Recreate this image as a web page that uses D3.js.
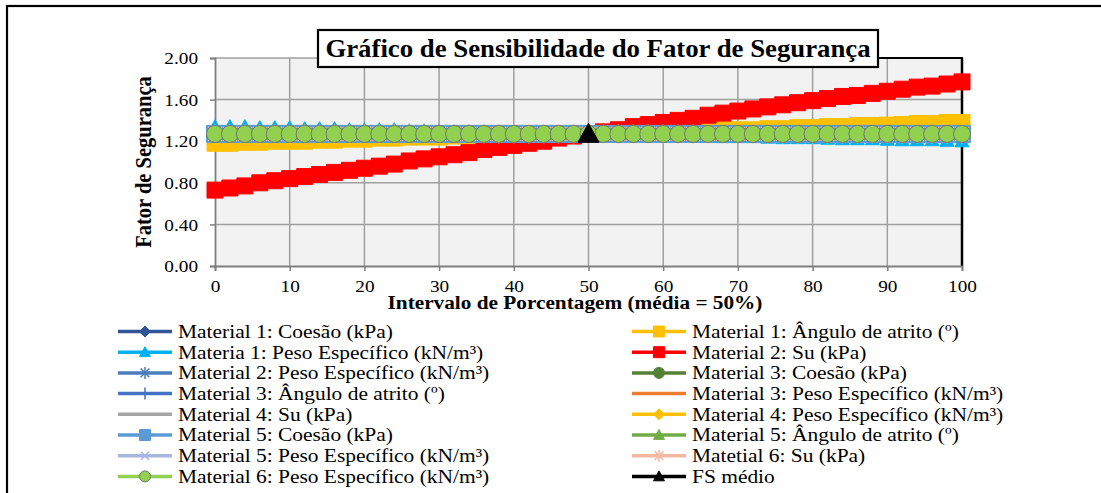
<!DOCTYPE html>
<html><head><meta charset="utf-8">
<script src="https://cdn.jsdelivr.net/npm/d3@7"></script>
<style>
body{margin:0;background:#fff}
svg{display:block}
text{font-family:"Liberation Serif","Times New Roman",serif;fill:#000}
</style>
</head><body>
<svg id="chart" width="1101" height="493"></svg>
<script>
// ---------------- DATA ----------------
const xValues = [0,2,4,6,8,10,12,14,16,18,20,22,24,26,28,30,32,34,36,38,40,42,44,46,48,50,
                 52,54,56,58,60,62,64,66,68,70,72,74,76,78,80,82,84,86,88,90,92,94,96,98,100];
const xTicks = [0,10,20,30,40,50,60,70,80,90,100];
const yTicks = [0.00,0.40,0.80,1.20,1.60,2.00];

const flatFS = [1.27,1.27,1.27,1.27,1.27,1.27,1.27,1.27,1.27,1.27,
                1.27,1.27,1.27,1.27,1.27,1.27,1.27,1.27,1.27,1.27,
                1.27,1.27,1.27,1.27,1.27,1.27,1.27,1.27,1.27,1.27,
                1.27,1.27,1.27,1.27,1.27,1.27,1.27,1.27,1.27,1.27,
                1.27,1.27,1.27,1.27,1.27,1.27,1.27,1.27,1.27,1.27,
                1.27];
const m1Coesao = flatFS;
const m1Angulo = [1.18,1.18,1.19,1.19,1.20,1.20,1.20,1.21,1.21,1.22,
                  1.22,1.23,1.23,1.24,1.24,1.24,1.25,1.25,1.25,1.26,
                  1.26,1.26,1.26,1.27,1.27,1.27,1.27,1.28,1.28,1.29,
                  1.29,1.29,1.30,1.30,1.31,1.31,1.31,1.32,1.32,1.33,
                  1.33,1.34,1.34,1.35,1.35,1.355,1.36,1.37,1.37,1.38,
                  1.38];
const m1Peso = [1.34,1.34,1.34,1.33,1.33,1.33,1.32,1.32,1.32,1.31,
                1.31,1.31,1.31,1.30,1.30,1.30,1.29,1.29,1.29,1.28,
                1.28,1.28,1.28,1.27,1.27,1.27,1.27,1.26,1.26,1.26,
                1.26,1.25,1.25,1.25,1.24,1.24,1.24,1.235,1.23,1.23,
                1.23,1.225,1.22,1.22,1.22,1.215,1.21,1.21,1.21,1.205,
                1.20];
const m2Su = [0.73,0.75,0.77,0.80,0.82,0.84,0.86,0.88,0.90,0.92,
              0.94,0.96,0.98,1.01,1.03,1.05,1.07,1.09,1.12,1.14,
              1.16,1.18,1.20,1.23,1.25,1.27,1.29,1.31,1.34,1.36,
              1.38,1.40,1.42,1.45,1.47,1.49,1.51,1.53,1.55,1.57,
              1.59,1.61,1.63,1.64,1.66,1.68,1.70,1.72,1.73,1.75,
              1.77];
const m2Peso = flatFS;
const m3Coesao = flatFS;
const m3Angulo = flatFS;
const m3Peso = flatFS;
const m4Su = flatFS;
const m4Peso = flatFS;
const m5Coesao = flatFS;
const m5Angulo = flatFS;
const m5Peso = flatFS;
const m6Su = flatFS;
const m6Peso = flatFS;
const fsMedioX = [50];
const fsMedioY = [1.27];

const seriesNames = [
  "Material 1: Coesão (kPa)",
  "Material 1: Ângulo de atrito (º)",
  "Materia 1: Peso Específico (kN/m³)",
  "Material 2: Su (kPa)",
  "Material 2: Peso Específico (kN/m³)",
  "Material 3: Coesão (kPa)",
  "Material 3: Ângulo de atrito (º)",
  "Material 3: Peso Específico (kN/m³)",
  "Material 4: Su (kPa)",
  "Material 4: Peso Específico (kN/m³)",
  "Material 5: Coesão (kPa)",
  "Material 5: Ângulo de atrito (º)",
  "Material 5: Peso Específico (kN/m³)",
  "Matetial 6: Su (kPa)",
  "Material 6: Peso Específico (kN/m³)",
  "FS médio"
];
const seriesValues = [m1Coesao,m1Angulo,m1Peso,m2Su,m2Peso,m3Coesao,m3Angulo,m3Peso,
                      m4Su,m4Peso,m5Coesao,m5Angulo,m5Peso,m6Su,m6Peso,fsMedioY];
const seriesX = [xValues,xValues,xValues,xValues,xValues,xValues,xValues,xValues,
                 xValues,xValues,xValues,xValues,xValues,xValues,xValues,fsMedioX];

const titleText = "Gráfico de Sensibilidade do Fator de Segurança";
const yTitleText = "Fator de Segurança";
const xTitleText = "Intervalo de Porcentagem (média = 50%)";

// ---------------- STYLE ----------------
const styles = [
  {color:"#2f5597", marker:"diamond",  size:14, fill:"#2f5597", stroke:"#2f5597"},
  {color:"#ffc000", marker:"square",   size:16, fill:"#ffc000", stroke:"#ffc000"},
  {color:"#00b0f0", marker:"triangle", size:14, fill:"#00b0f0", stroke:"#00b0f0"},
  {color:"#ff0000", marker:"square",   size:16, fill:"#ff0000", stroke:"#ff0000"},
  {color:"#4a7ebb", marker:"asterisk", size:16, fill:"none",    stroke:"#4a7ebb"},
  {color:"#548235", marker:"circle",   size:14, fill:"#548235", stroke:"#548235"},
  {color:"#4472c4", marker:"plus",     size:18, fill:"none",    stroke:"#4472c4"},
  {color:"#ed7d31", marker:"none",     size:0},
  {color:"#a5a5a5", marker:"none",     size:0},
  {color:"#ffc000", marker:"diamond",  size:14, fill:"#ffc000", stroke:"#ffc000"},
  {color:"#5b9bd5", marker:"square",   size:17, fill:"#5b9bd5", stroke:"#5b9bd5"},
  {color:"#70ad47", marker:"triangle", size:14, fill:"#70ad47", stroke:"#70ad47"},
  {color:"#a9b6dd", marker:"x",        size:14, fill:"none",    stroke:"#a9b6dd"},
  {color:"#f4b8a0", marker:"asterisk", size:19, fill:"none",    stroke:"#f4b8a0"},
  {color:"#92d050", marker:"circle",   size:17, fill:"#92d050", stroke:"#6f7b6a"},
  {color:"#000000", marker:"triangle", size:21, fill:"#000000", stroke:"#000000"}
];

// ---------------- DRAW ----------------
const svg = d3.select("#chart");
const plot = {left:215, right:962, top:58, bottom:266};

const x = d3.scaleLinear().domain([0,100]).range([plot.left, plot.right]);
const y = d3.scaleLinear().domain([0,2]).range([plot.bottom, plot.top]);

// outer frame
svg.append("rect").attr("x",7).attr("y",6).attr("width",1200).attr("height",600)
  .attr("fill","none").attr("stroke","#000").attr("stroke-width",2.2);

// plot background
svg.append("rect").attr("x",plot.left).attr("y",plot.top)
  .attr("width",plot.right-plot.left).attr("height",plot.bottom-plot.top)
  .attr("fill","#f2f2f2");

// gridlines
svg.append("g").selectAll("line").data(xTicks.slice(1,-1)).join("line")
  .attr("x1",d=>x(d)).attr("x2",d=>x(d)).attr("y1",plot.top).attr("y2",plot.bottom)
  .attr("stroke","#a0a0a0").attr("stroke-width",1.5);
svg.append("g").selectAll("line").data(yTicks.slice(1)).join("line")
  .attr("x1",plot.left).attr("x2",plot.right).attr("y1",d=>y(d)).attr("y2",d=>y(d))
  .attr("stroke","#a0a0a0").attr("stroke-width",1.5);

// right / top-right border (black)
svg.append("line").attr("x1",plot.right).attr("x2",plot.right)
  .attr("y1",plot.top).attr("y2",plot.bottom).attr("stroke","#000").attr("stroke-width",2.5);
svg.append("line").attr("x1",850).attr("x2",plot.right+1)
  .attr("y1",plot.top).attr("y2",plot.top).attr("stroke","#000").attr("stroke-width",2);

// axes
const sxTick = 1.1;
const yAxis = d3.axisLeft(y).tickValues(yTicks).tickFormat(d3.format(".2f")).tickSize(5).tickPadding(12);
const gy = svg.append("g").attr("transform",`translate(${plot.left},0)`).call(yAxis);
gy.select(".domain").attr("stroke","#7f7f7f").attr("stroke-width",1.8);
gy.selectAll(".tick line").attr("stroke","#7f7f7f").attr("stroke-width",1.5);
gy.selectAll(".tick text").attr("font-size",17.5).attr("fill","#000")
  .attr("transform",function(){ const xx=+d3.select(this).attr("x"); return `translate(${xx*(1-sxTick)},0) scale(${sxTick},1)`; });

const xAxis = d3.axisBottom(x).tickValues(xTicks).tickFormat(d3.format("d")).tickSize(5).tickPadding(9);
const gx = svg.append("g").attr("transform",`translate(0,${plot.bottom})`).call(xAxis);
gx.select(".domain").attr("stroke","#7f7f7f").attr("stroke-width",1.8);
gx.selectAll(".tick line").attr("stroke","#7f7f7f").attr("stroke-width",1.5);
gx.selectAll(".tick text").attr("font-size",17.5).attr("fill","#000")
  .attr("transform",`scale(${sxTick},1)`);

// marker path helper
function markerPath(type, s){
  const h = s/2;
  switch(type){
    case "diamond": return `M0,${-h}L${h},0L0,${h}L${-h},0Z`;
    case "square": return `M${-h},${-h}H${h}V${h}H${-h}Z`;
    case "triangle": return `M0,${-h}L${h},${h*0.8}L${-h},${h*0.8}Z`;
    case "circle": return d3.symbol(d3.symbolCircle, Math.PI*h*h)();
    case "asterisk": {const k=h*0.72; return `M0,${-h}V${h}M${-k},${-k}L${k},${k}M${-k},${k}L${k},${-k}`;}
    case "x": {const k=h*0.72; return `M${-k},${-k}L${k},${k}M${-k},${k}L${k},${-k}`;}
    case "plus": return `M0,${-h}V${h}M${-h*0.5},0H${h*0.5}`;
    default: return "";
  }
}

const line = d3.line();
const seriesLayer = svg.append("g");
seriesValues.forEach((vals,i)=>{
  const st = styles[i];
  const pts = vals.map((v,j)=>[x(seriesX[i][j]), y(v)]);
  const g = seriesLayer.append("g");
  if (pts.length>1){
    g.append("path").attr("d",line(pts)).attr("fill","none")
      .attr("stroke",st.color).attr("stroke-width",3);
  }
  if (st.marker!=="none"){
    g.selectAll("path.m").data(pts).join("path").attr("class","m")
      .attr("transform",d=>`translate(${d[0]},${d[1]})`)
      .attr("d",markerPath(st.marker, st.size))
      .attr("fill",st.fill).attr("stroke",st.stroke)
      .attr("stroke-width", (st.fill==="none") ? 1.5 : 1);
  }
});

// title box
const titleG = svg.append("g");
titleG.append("rect").attr("x",318).attr("y",30).attr("width",560).attr("height",37)
  .attr("fill","#fff").attr("stroke","#000").attr("stroke-width",2.2);
titleG.append("text").attr("transform","translate(598,57) scale(1.03,1)").attr("text-anchor","middle")
  .attr("font-size",26).attr("font-weight","bold").text(titleText);

// axis titles
svg.append("text").attr("transform","translate(151,162) rotate(-90) scale(1,1.1)")
  .attr("text-anchor","middle").attr("font-size",20.5).attr("font-weight","bold").text(yTitleText);
svg.append("text").attr("transform","translate(575,309) scale(1.12,1)").attr("text-anchor","middle")
  .attr("font-size",19).attr("font-weight","bold").text(xTitleText);

// legend
const legend = svg.append("g");
seriesNames.forEach((name,si)=>{
  const col = si%2, row = Math.floor(si/2);
  const x0 = col===0 ? 118 : 632;
  const yc = 331.5 + row*20.7;
  const st = styles[si];
  const g = legend.append("g");
  g.append("line").attr("x1",x0).attr("x2",x0+54).attr("y1",yc).attr("y2",yc)
    .attr("stroke",st.color).attr("stroke-width",3.5);
  if (st.marker!=="none"){
    g.append("path").attr("transform",`translate(${x0+27},${yc})`)
      .attr("d",markerPath(st.marker, (st.marker==="asterisk"||st.marker==="plus")?12:11))
      .attr("fill",st.fill).attr("stroke",st.stroke)
      .attr("stroke-width",(st.fill==="none")?1.5:1);
  }
  g.append("text").attr("transform",`translate(${x0+60},${yc}) scale(1.1,1)`).attr("dy","0.33em")
    .attr("font-size",19.5).text(name);
});
</script>
</body></html>
